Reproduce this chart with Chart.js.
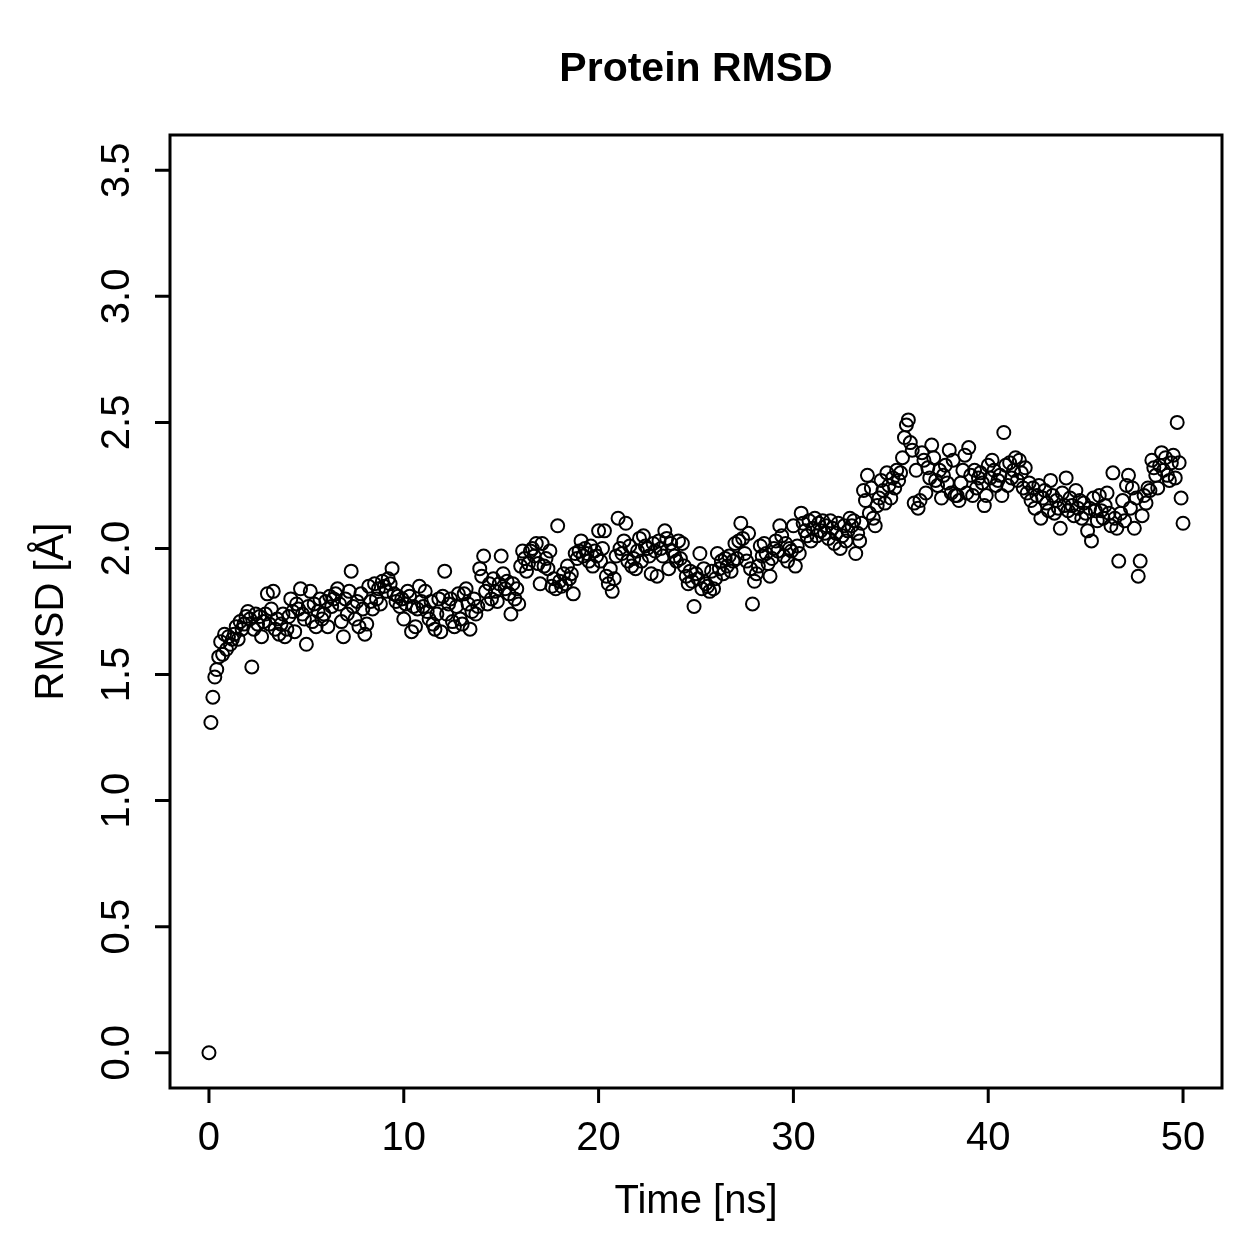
<!DOCTYPE html>
<html>
<head>
<meta charset="utf-8">
<title>Protein RMSD</title>
<script src="https://cdn.jsdelivr.net/npm/chart.js@4.4.1/dist/chart.umd.min.js"></script>
<style>
    html, body { margin: 0; padding: 0; background: #ffffff; }
</style>
</head>
<body>
<canvas id="rmsdChart" width="1259" height="1259"></canvas>
<script>
// sampling interval of the trajectory (ns)
const timeStep = 0.1;

// RMSD values (Å), one row per ns
const rmsd = [
    0.00, 1.31, 1.41, 1.49, 1.52, 1.57, 1.63, 1.58, 1.66, 1.60,   // 0 ns
    1.65, 1.62, 1.64, 1.66, 1.69, 1.64, 1.71, 1.68, 1.70, 1.73,   // 1
    1.75, 1.72, 1.53, 1.68, 1.74, 1.70, 1.73, 1.65, 1.71, 1.74,   // 2
    1.82, 1.70, 1.76, 1.83, 1.68, 1.72, 1.66, 1.70, 1.74, 1.65,   // 3
    1.68, 1.73, 1.80, 1.75, 1.67, 1.78, 1.76, 1.84, 1.74, 1.72,   // 4
    1.62, 1.77, 1.83, 1.71, 1.78, 1.69, 1.75, 1.80, 1.72, 1.74,   // 5
    1.79, 1.69, 1.81, 1.77, 1.80, 1.82, 1.84, 1.78, 1.71, 1.65,   // 6
    1.80, 1.74, 1.83, 1.91, 1.77, 1.72, 1.79, 1.69, 1.82, 1.76,   // 7
    1.66, 1.70, 1.85, 1.79, 1.76, 1.86, 1.80, 1.84, 1.78, 1.87,   // 8
    1.85, 1.83, 1.88, 1.86, 1.92, 1.82, 1.79, 1.81, 1.77, 1.80,   // 9
    1.72, 1.78, 1.83, 1.81, 1.67, 1.77, 1.69, 1.76, 1.85, 1.79,   // 10
    1.77, 1.83, 1.75, 1.72, 1.79, 1.70, 1.68, 1.74, 1.80, 1.67,   // 11
    1.81, 1.91, 1.74, 1.78, 1.80, 1.71, 1.69, 1.77, 1.82, 1.72,   // 12
    1.70, 1.82, 1.84, 1.78, 1.68, 1.75, 1.80, 1.74, 1.77, 1.92,   // 13
    1.89, 1.97, 1.83, 1.78, 1.86, 1.80, 1.88, 1.83, 1.79, 1.86,   // 14
    1.97, 1.90, 1.84, 1.87, 1.82, 1.74, 1.86, 1.80, 1.84, 1.78,   // 15
    1.93, 1.99, 1.96, 1.91, 1.94, 1.99, 2.00, 1.97, 2.02, 1.94,   // 16
    1.86, 2.02, 1.93, 1.96, 1.92, 1.99, 1.85, 1.88, 1.84, 2.09,   // 17
    1.87, 1.85, 1.90, 1.86, 1.93, 1.88, 1.90, 1.82, 1.98, 1.96,   // 18
    1.99, 2.03, 1.97, 2.00, 1.98, 1.95, 2.01, 1.93, 1.99, 1.97,   // 19
    2.07, 1.95, 2.00, 2.07, 1.89, 1.86, 1.92, 1.83, 1.88, 1.97,   // 20
    2.12, 2.00, 1.98, 2.03, 2.10, 1.95, 2.01, 1.93, 1.96, 1.92,   // 21
    1.99, 2.04, 1.95, 2.05, 2.01, 2.00, 1.97, 1.90, 2.02, 1.99,   // 22
    1.89, 2.03, 2.00, 1.97, 2.07, 2.04, 1.92, 2.02, 1.99, 1.97,   // 23
    1.95, 2.03, 1.96, 2.02, 1.93, 1.89, 1.86, 1.91, 1.87, 1.77,   // 24
    1.90, 1.88, 1.98, 1.84, 1.92, 1.86, 1.85, 1.83, 1.91, 1.84,   // 25
    1.88, 1.98, 1.92, 1.95, 1.90, 1.96, 1.93, 1.97, 1.91, 1.95,   // 26
    2.02, 1.96, 2.03, 2.10, 2.04, 1.98, 1.95, 2.06, 1.92, 1.78,   // 27
    1.87, 1.90, 1.93, 2.01, 1.97, 2.02, 1.98, 1.94, 1.89, 1.96,   // 28
    2.00, 2.03, 1.99, 2.09, 2.05, 1.97, 2.02, 1.95, 2.00, 1.99,   // 29
    2.09, 1.93, 2.01, 1.98, 2.14, 2.10, 2.07, 2.05, 2.11, 2.03,   // 30
    2.08, 2.12, 2.05, 2.10, 2.07, 2.11, 2.06, 2.09, 2.04, 2.11,   // 31
    2.08, 2.02, 2.06, 2.10, 2.00, 2.05, 2.09, 2.03, 2.07, 2.12,   // 32
    2.09, 2.11, 1.98, 2.06, 2.03, 2.10, 2.23, 2.19, 2.29, 2.14,   // 33
    2.24, 2.12, 2.09, 2.17, 2.20, 2.27, 2.23, 2.18, 2.30, 2.25,   // 34
    2.20, 2.28, 2.24, 2.31, 2.27, 2.30, 2.36, 2.44, 2.49, 2.51,   // 35
    2.42, 2.39, 2.18, 2.31, 2.16, 2.19, 2.38, 2.35, 2.22, 2.32,   // 36
    2.28, 2.41, 2.36, 2.27, 2.25, 2.31, 2.20, 2.29, 2.33, 2.26,   // 37
    2.39, 2.22, 2.35, 2.21, 2.21, 2.19, 2.26, 2.31, 2.37, 2.22,   // 38
    2.40, 2.29, 2.21, 2.31, 2.24, 2.28, 2.30, 2.26, 2.17, 2.21,   // 39
    2.33, 2.28, 2.35, 2.31, 2.25, 2.27, 2.29, 2.21, 2.46, 2.33,   // 40
    2.25, 2.34, 2.28, 2.31, 2.36, 2.27, 2.35, 2.30, 2.24, 2.32,   // 41
    2.22, 2.26, 2.19, 2.24, 2.16, 2.21, 2.25, 2.12, 2.20, 2.23,   // 42
    2.18, 2.15, 2.27, 2.21, 2.14, 2.19, 2.16, 2.08, 2.22, 2.17,   // 43
    2.28, 2.15, 2.20, 2.17, 2.13, 2.23, 2.16, 2.19, 2.12, 2.18,   // 44
    2.14, 2.07, 2.16, 2.03, 2.20, 2.15, 2.11, 2.21, 2.15, 2.12,   // 45
    2.17, 2.22, 2.14, 2.09, 2.30, 2.12, 2.08, 1.95, 2.14, 2.19,   // 46
    2.11, 2.25, 2.29, 2.16, 2.24, 2.08, 2.20, 1.89, 1.95, 2.13,   // 47
    2.21, 2.18, 2.24, 2.23, 2.35, 2.32, 2.29, 2.24, 2.33, 2.38,   // 48
    2.31, 2.36, 2.29, 2.27, 2.34, 2.37, 2.28, 2.50, 2.34, 2.20,   // 49
    2.10                                                          // 50
];

// axis ticks
const xTicks = [0, 10, 20, 30, 40, 50];
const yTicks = [0.0, 0.5, 1.0, 1.5, 2.0, 2.5, 3.0, 3.5];
const yTickLabels = ['0.0', '0.5', '1.0', '1.5', '2.0', '2.5', '3.0', '3.5'];

const titleText = 'Protein RMSD';
const xLabel = 'Time [ns]';
const yLabel = 'RMSD [Å]';

const FONT = '"Liberation Sans", Arial, Helvetica, sans-serif';
const markerRadius = 6.5;

// R-style box, ticks and labels, drawn through the chart's scales
const rStyleAxes = {
    id: 'rStyleAxes',
    afterDraw(chart) {
        const { ctx, chartArea: area, scales } = chart;
        const xs = scales.x, ys = scales.y;
        const tickLen = 15;

        ctx.save();
        ctx.strokeStyle = '#000';
        ctx.lineWidth = 3;
        ctx.strokeRect(area.left, area.top, area.right - area.left, area.bottom - area.top);

        ctx.beginPath();
        xTicks.forEach(t => {
            const px = xs.getPixelForValue(t);
            ctx.moveTo(px, area.bottom);
            ctx.lineTo(px, area.bottom + tickLen);
        });
        yTicks.forEach(t => {
            const py = ys.getPixelForValue(t);
            ctx.moveTo(area.left, py);
            ctx.lineTo(area.left - tickLen, py);
        });
        ctx.stroke();

        ctx.fillStyle = '#000';
        ctx.textAlign = 'center';
        ctx.textBaseline = 'middle';
        ctx.font = '40px ' + FONT;

        xTicks.forEach(t => {
            ctx.fillText(String(t), xs.getPixelForValue(t), area.bottom + 51);
        });
        yTicks.forEach((t, i) => {
            ctx.save();
            ctx.translate(area.left - 52, ys.getPixelForValue(t));
            ctx.rotate(-Math.PI / 2);
            ctx.fillText(yTickLabels[i], 0, 0);
            ctx.restore();
        });

        const midX = (area.left + area.right) / 2;
        const midY = (area.top + area.bottom) / 2;

        ctx.fillText(xLabel, midX, area.bottom + 114);

        ctx.save();
        ctx.translate(area.left - 118, midY);
        ctx.rotate(-Math.PI / 2);
        ctx.fillText(yLabel, 0, 0);
        ctx.restore();

        ctx.font = 'bold 41px ' + FONT;
        ctx.fillText(titleText, midX, 70);
        ctx.restore();
    }
};

const points = rmsd.map((v, i) => ({ x: Math.round(i * timeStep * 10) / 10, y: v }));

new Chart(document.getElementById('rmsdChart').getContext('2d'), {
    type: 'scatter',
    data: {
        datasets: [{
            label: 'RMSD',
            data: points,
            pointStyle: 'circle',
            // scriptable so every point resolves its own options
            pointRadius: () => markerRadius,
            pointHoverRadius: () => markerRadius,
            pointBorderWidth: 2,
            pointHoverBorderWidth: 2,
            pointBorderColor: '#000',
            pointBackgroundColor: 'rgba(0,0,0,0)'
        }]
    },
    options: {
        responsive: false,
        animation: false,
        devicePixelRatio: 1,
        events: [],
        layout: { padding: { left: 170, right: 37, top: 135, bottom: 171 } },
        plugins: {
            legend: { display: false },
            tooltip: { enabled: false },
            title: { display: false }
        },
        scales: {
            x: { type: 'linear', min: -2, max: 52, display: false },
            y: { type: 'linear', min: -0.14, max: 3.64, display: false }
        }
    },
    plugins: [rStyleAxes]
});
</script>
</body>
</html>
